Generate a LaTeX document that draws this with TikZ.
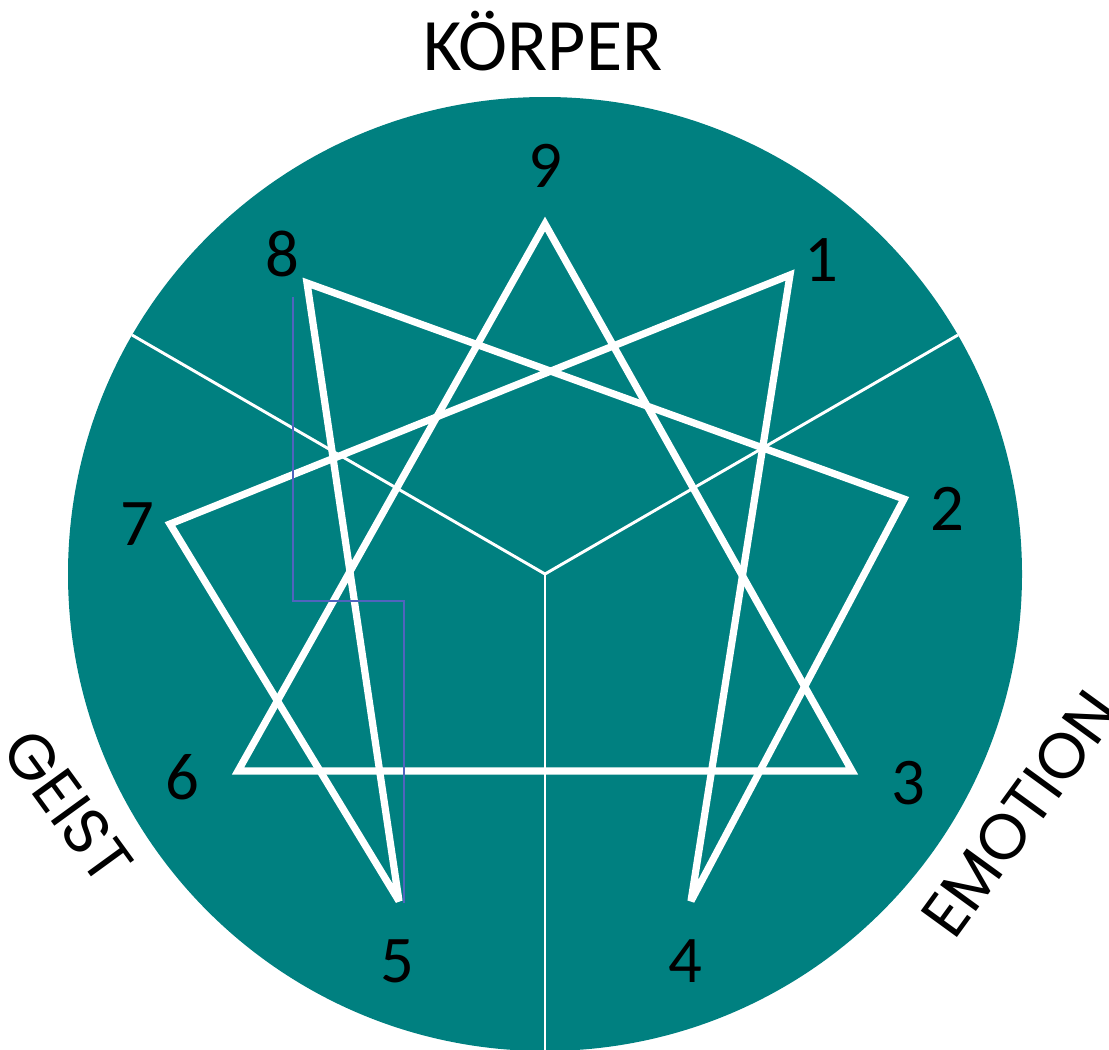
\documentclass[tikz,border=0pt]{standalone}
\usepackage{fontspec}
\setmainfont{Carlito}
\newfontfamily\geofont{Poppins}
\definecolor{enneateal}{RGB}{0,128,128}
\definecolor{guideblue}{RGB}{80,100,190}

\begin{document}
\begin{tikzpicture}[x=0.75pt,y=-0.75pt,
    digit/.style={font=\fontsize{50}{50}\selectfont, anchor=base, inner sep=0pt},
    side/.style={font=\geofont\fontsize{48}{48}\selectfont, inner sep=0pt},
    star/.style={white, line width=5.4pt, line join=miter, miter limit=2.5},
    divider/.style={white, line width=2.2pt}]
  \useasboundingbox (0,0) rectangle (1109,1049);
  \clip (0,0) rectangle (1109,1049);
  % disc and the three centres
  \coordinate (c) at (545,574);
  \fill[enneateal] (c) circle[radius=477];
  \coordinate (d1) at (132,335);
  \coordinate (d2) at (958,335);
  \coordinate (d3) at (545,1060);
  \draw[divider] (d1) -- (c) -- (d2);
  \draw[divider] (c) -- (d3);
  % star points
  \foreach \n/\p in {9/{545,224},1/{790,275},2/{904,499},3/{852,771},4/{691,901},
                     5/{399,901},6/{238,771},7/{170,524},8/{307,283}}{
    \coordinate (p\n) at (\p);
  }
  \draw[star] (p9) -- (p3) -- (p6) -- cycle;
  \draw[star] (p1) -- (p4) -- (p2) -- (p8) -- (p5) -- (p7) -- cycle;
  % stray guide line
  \coordinate (g1) at (293,297);
  \coordinate (g2) at (404,601);
  \coordinate (g3) at (404,903);
  \draw[guideblue, line width=0.8pt] (g1) |- (g2) -- (g3);
  % numbers
  \foreach \n/\p in {9/{545,187},1/{821,281},2/{947,530},3/{908,804},4/{685,982},
                     5/{397,982},6/{182,799},7/{137,545},8/{282,276}}{
    \node[digit] (l\n) at (\p) {\n};
  }
  % centre names
  \node[font=\fontsize{55.5}{55.5}\selectfont, anchor=base] (body) at (543,70) {KÖRPER};
  \node[side, rotate=-54] (mind) at (68,806) {GEIST};
  \node[side, rotate=54] (heart) at (1020,814) {EMOTION};
\end{tikzpicture}
\end{document}
